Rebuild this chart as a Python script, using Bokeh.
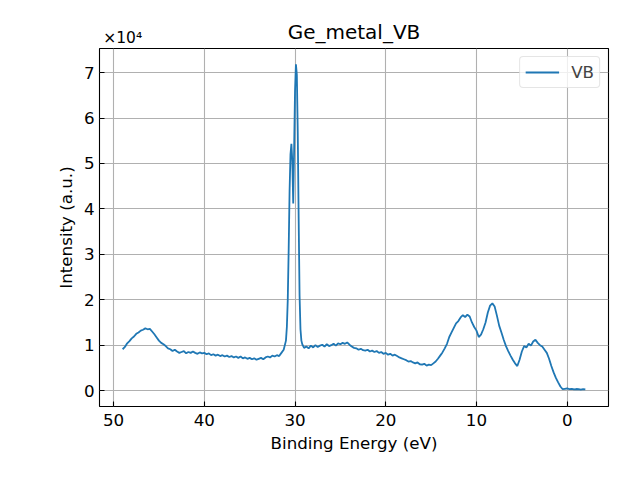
from bokeh.plotting import figure
from bokeh.models import (Range1d, FixedTicker, CustomJSTickFormatter, LinearAxis,
                          ColumnDataSource)
from bokeh.embed import file_html
from bokeh.resources import INLINE

# binding energy (eV) and counts
energy = [
    49.0, 48.75, 48.5, 48.25, 48.0, 47.75, 47.5, 47.25, 47.0, 46.75,
    46.5, 46.25, 46.0, 45.75, 45.5, 45.25, 45.0, 44.75, 44.5, 44.25,
    44.0, 43.75, 43.5, 43.25, 43.0, 42.75, 42.5, 42.25, 42.0, 41.75,
    41.5, 41.25, 41.0, 40.75, 40.5, 40.25, 40.0, 39.75, 39.5, 39.25,
    39.0, 38.75, 38.5, 38.25, 38.0, 37.75, 37.5, 37.25, 37.0, 36.75,
    36.5, 36.25, 36.0, 35.75, 35.5, 35.25, 35.0, 34.75, 34.5, 34.25,
    34.0, 33.75, 33.5, 33.25, 33.0, 32.75, 32.5, 32.25, 32.0, 31.75,
    31.5, 31.25, 31.0, 30.9, 30.8, 30.7, 30.6, 30.5, 30.4, 30.3,
    30.2, 30.1, 30.0, 29.9, 29.8, 29.7, 29.6, 29.5, 29.4, 29.3,
    29.2, 29.1, 29.0, 28.75, 28.5, 28.25, 28.0, 27.75, 27.5, 27.25,
    27.0, 26.75, 26.5, 26.25, 26.0, 25.75, 25.5, 25.25, 25.0, 24.75,
    24.5, 24.25, 24.0, 23.75, 23.5, 23.25, 23.0, 22.75, 22.5, 22.25,
    22.0, 21.75, 21.5, 21.25, 21.0, 20.75, 20.5, 20.25, 20.0, 19.75,
    19.5, 19.25, 19.0, 18.75, 18.5, 18.25, 18.0, 17.75, 17.5, 17.25,
    17.0, 16.75, 16.5, 16.25, 16.0, 15.75, 15.5, 15.25, 15.0, 14.75,
    14.5, 14.25, 14.0, 13.75, 13.5, 13.25, 13.0, 12.75, 12.5, 12.25,
    12.0, 11.75, 11.5, 11.25, 11.0, 10.75, 10.5, 10.25, 10.0, 9.75,
    9.5, 9.25, 9.0, 8.75, 8.5, 8.25, 8.0, 7.75, 7.5, 7.25,
    7.0, 6.75, 6.5, 6.25, 6.0, 5.75, 5.5, 5.25, 5.0, 4.75,
    4.5, 4.25, 4.0, 3.75, 3.5, 3.25, 3.0, 2.75, 2.5, 2.25,
    2.0, 1.75, 1.5, 1.25, 1.0, 0.75, 0.5, 0.25, 0.0, -0.25,
    -0.5, -0.75, -1.0, -1.25, -1.5, -1.75, -2.0,
]
intensity = [
    9100, 9600, 10400, 10900, 11500, 11900, 12500, 12800, 13200, 13400,
    13700, 13500, 13600, 13000, 12400, 11700, 11000, 10500, 10200, 9800,
    9300, 9100, 8700, 9000, 8600, 8300, 8500, 8700, 8200, 8500,
    8300, 8600, 8300, 8100, 8400, 8200, 8300, 8000, 8200, 7800,
    8000, 7700, 7900, 7600, 7800, 7500, 7700, 7400, 7600, 7300,
    7500, 7200, 7500, 7100, 7300, 7000, 7200, 6900, 7100, 6800,
    7000, 7200, 6900, 7300, 7500, 7300, 7700, 7500, 7800, 7600,
    8300, 9000, 11000, 14000, 20000, 31000, 44000, 52000, 54300, 50500,
    41200, 53000, 66000, 71800, 69500, 57000, 38000, 21000, 13500, 11000,
    10200, 9800, 9400, 9700, 9300, 9900, 9500, 10000, 9600, 9900,
    10100, 9700, 10200, 9800, 10000, 10300, 9900, 10400, 10200, 10500,
    10300, 10600, 10100, 9700, 9400, 9300, 9000, 9200, 8900, 8800,
    9000, 8600, 8800, 8500, 8700, 8300, 8500, 8100, 8300, 7900,
    8100, 7700, 7900, 7600, 7300, 7100, 6900, 6700, 6400, 6500,
    6200, 6000, 6200, 5800, 5700, 5900, 5500, 5700, 5600, 6000,
    6400, 7000, 7700, 8400, 9300, 10300, 11800, 12800, 13800, 14800,
    15300, 16100, 16600, 16200, 16700, 16300, 15000, 14000, 13200, 11800,
    12300, 13500, 15000, 17200, 18700, 19200, 18500, 16500, 14300, 12800,
    11200, 9800, 8700, 7700, 6800, 6000, 5400, 6800, 8600, 9800,
    9500, 10300, 9900, 10800, 11200, 10500, 10000, 9700, 9000, 8300,
    7000, 5400, 4000, 2800, 1800, 900, 300, 400, 500, 300,
    400, 250, 350, 300, 200, 300, 250,
]

x_ticks = [50, 40, 30, 20, 10, 0]
y_ticks = [0, 10000, 20000, 30000, 40000, 50000, 60000, 70000]
title_text = "Ge_metal_VB"
offset_text = "×10⁴"

FONT = "DejaVu Sans"

src = ColumnDataSource(data=dict(energy=energy, intensity=intensity))

p = figure(width=624, height=464, output_backend="svg", toolbar_location=None, title=None,
           x_range=Range1d(51.55, -4.55), y_range=Range1d(-3500, 75300),
           min_border_left=99, min_border_right=16, min_border_top=48, min_border_bottom=58)

p.line("energy", "intensity", source=src, line_color="#1f77b4", line_width=1.8, legend_label="VB")

p.outline_line_color = "black"
p.outline_line_width = 1.1

for ax in (p.xaxis[0], p.yaxis[0]):
    ax.axis_line_color = None
    ax.major_tick_in = 5
    ax.major_tick_out = 0
    ax.minor_tick_line_color = None
    ax.major_tick_line_color = "black"
    ax.major_tick_line_width = 1.1
    ax.major_label_text_font = FONT
    ax.major_label_text_font_size = "16.7px"
    ax.major_label_text_color = "black"
    ax.axis_label_text_font = FONT
    ax.axis_label_text_font_size = "16.7px"
    ax.axis_label_text_font_style = "normal"
    ax.axis_label_text_color = "black"

p.xaxis.axis_label = "Binding Energy (eV)"
p.yaxis.axis_label = "Intensity (a.u.)"
p.xaxis.ticker = FixedTicker(ticks=x_ticks)
p.yaxis.ticker = FixedTicker(ticks=y_ticks)
p.yaxis.formatter = CustomJSTickFormatter(code="return (tick / 1e4).toFixed(0);")
p.xaxis.major_label_standoff = 7
p.yaxis.major_label_standoff = 5
p.xaxis.axis_label_standoff = 4
p.yaxis.axis_label_standoff = 5

# top axis: carries the y offset text (as its one tick label) and the title (as its label)
top = LinearAxis(ticker=FixedTicker(ticks=[49.0]),
                 formatter=CustomJSTickFormatter(code="return %r;" % offset_text))
top.axis_line_color = None
top.major_tick_line_color = None
top.minor_tick_line_color = None
top.major_tick_out = 0
top.major_tick_in = 0
top.major_label_standoff = 2
top.major_label_text_font = FONT
top.major_label_text_font_size = "15.5px"
top.major_label_text_color = "black"
top.axis_label = title_text
top.axis_label_text_font = FONT
top.axis_label_text_font_size = "20px"
top.axis_label_text_font_style = "normal"
top.axis_label_text_color = "black"
top.axis_label_standoff = -18
p.add_layout(top, "above")

p.grid.grid_line_color = "#b0b0b0"
p.grid.grid_line_width = 1.1

leg = p.legend[0]
leg.location = "top_right"
leg.margin = 8
leg.padding = 5
leg.spacing = 0
leg.glyph_width = 34
leg.glyph_height = 20
leg.label_height = 20
leg.label_standoff = 12
leg.label_text_font = FONT
leg.label_text_font_size = "16.7px"
leg.border_line_color = "#cccccc"
leg.border_line_width = 1
leg.border_radius = 4
leg.background_fill_alpha = 0.8

open("out.html", "w").write(file_html(p, INLINE))
